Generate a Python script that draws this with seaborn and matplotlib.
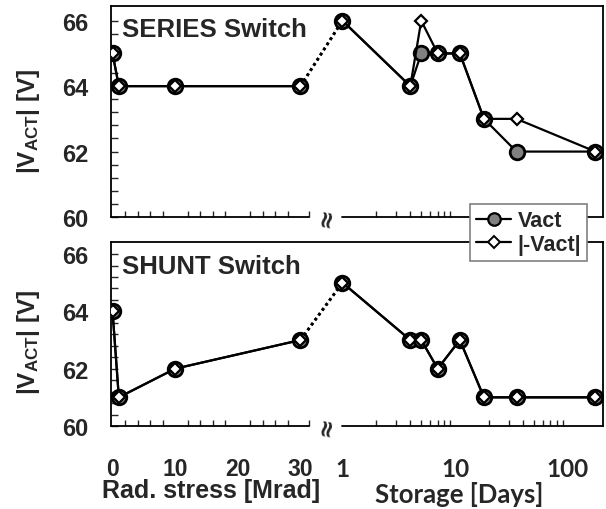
import numpy as np
import pandas as pd
import matplotlib
matplotlib.use("Agg")
import matplotlib.pyplot as plt
from matplotlib.lines import Line2D
from matplotlib.ticker import FixedLocator
import seaborn as sns

# ---------------- data ----------------
rad_x = [0, 1, 10, 30]                      # Mrad
days_x = [1, 4, 5, 7, 11, 18, 35, 175]      # days

series_vact_rad = [65, 64, 64, 64]
series_vact_days = [66, 64, 65, 65, 65, 63, 62, 62]
series_neg_rad = [65, 64, 64, 64]
series_neg_days = [66, 64, 66, 65, 65, 63, 63, 62]

shunt_vact_rad = [64, 61, 62, 63]
shunt_vact_days = [65, 63, 63, 62, 63, 61, 61, 61]
shunt_neg_rad = [64, 61, 62, 63]
shunt_neg_days = [65, 63, 63, 62, 63, 61, 61, 61]

panel_titles = ["SERIES Switch", "SHUNT Switch"]
series_names = ["Vact", "|-Vact|"]
rad_ticks = [0, 10, 20, 30]
day_ticks = [1, 10, 100]

# ---------------- broken-axis mapping ----------------
X_MIN = -0.25
RAD_END = 31.3
DAY0 = 36.7
DEC = 18.0
X_MAX = 78.3


def dpos(d):
    return DAY0 + DEC * np.log10(np.asarray(d, dtype=float))


rows = []
data = {
    (0, "Vact"): (series_vact_rad, series_vact_days),
    (0, "|-Vact|"): (series_neg_rad, series_neg_days),
    (1, "Vact"): (shunt_vact_rad, shunt_vact_days),
    (1, "|-Vact|"): (shunt_neg_rad, shunt_neg_days),
}
for (p, s), (yr, yd) in data.items():
    for x, y in zip(rad_x, yr):
        rows.append(dict(panel=p, series=s, part="rad", x=float(x), y=y))
    for x, y in zip(days_x, yd):
        rows.append(dict(panel=p, series=s, part="days", x=float(dpos(x)), y=y))
    rows.append(dict(panel=p, series=s, part="link", x=float(rad_x[-1]), y=yr[-1]))
    rows.append(dict(panel=p, series=s, part="link", x=float(dpos(days_x[0])), y=yd[0]))
df = pd.DataFrame(rows)

# ---------------- style ----------------
sns.set_style("ticks")
plt.rcParams["font.family"] = ["Liberation Sans", "DejaVu Sans"]
plt.rcParams["font.weight"] = "bold"
plt.rcParams["mathtext.default"] = "regular"

W, H = 606, 510
fig = plt.figure(figsize=(W / 100, H / 100), dpi=100)


def fx(px):
    return px / W


def fy(py):
    return 1 - py / H


axes_px = [(111, 603, 7, 218), (111, 603, 243, 427)]
title_top_px = [18, 255]
ylims = [(60, 66.45), (60, 66.42)]

styles = {
    "Vact": dict(marker="o", markersize=10.5, markerfacecolor="#808080",
                 markeredgecolor="black", markeredgewidth=2.0),
    "|-Vact|": dict(marker="D", markersize=6.3, markerfacecolor="white",
                    markeredgecolor="black", markeredgewidth=1.6),
}

for p in range(2):
    l, r, t, b = axes_px[p]
    ax = fig.add_axes([fx(l), fy(b), fx(r) - fx(l), fy(t) - fy(b)])
    sub = df[df.panel == p]
    for s in series_names:
        ss = sub[sub.series == s]
        link = ss[ss.part == "link"]
        sns.lineplot(data=link, x="x", y="y", ax=ax, color="black", lw=2.0,
                     linestyle=(0, (1, 1.2)), estimator=None, sort=False,
                     legend=False, zorder=2)
    for s in series_names:
        ss = sub[sub.series == s]
        for part in ["rad", "days"]:
            seg = ss[ss.part == part]
            sns.lineplot(data=seg, x="x", y="y", ax=ax, color="black", lw=1.6,
                         estimator=None, sort=False, legend=False, zorder=3,
                         **styles[s])

    ax.set_xlim(X_MIN, X_MAX)
    ax.set_ylim(*ylims[p])
    ax.set_xlabel("")
    ax.set_ylabel(r"|V$_{ACT}$| [V]", fontsize=17.5, fontweight="bold")
    ax.yaxis.set_label_coords(-0.14, 0.46)

    for sp in ["top", "right", "left"]:
        ax.spines[sp].set_linewidth(1.3)
        ax.spines[sp].set_color("black")
    ax.spines["bottom"].set_visible(False)
    xt = ax.get_xaxis_transform()
    ax.add_line(Line2D([X_MIN, RAD_END], [0, 0], transform=xt, color="black",
                       lw=1.3, clip_on=False, zorder=4))
    ax.add_line(Line2D([DAY0, X_MAX], [0, 0], transform=xt, color="black",
                       lw=1.3, clip_on=False, zorder=4))
    ax.text((RAD_END + DAY0) / 2, 0, "\u2248", transform=xt, rotation=80,
            ha="center", va="center", fontsize=17, fontweight="bold",
            family="DejaVu Sans", clip_on=False)

    # y ticks
    ax.set_yticks([60, 62, 64, 66])
    ax.yaxis.set_minor_locator(FixedLocator(np.arange(60, 66.01, 0.4)))
    ax.tick_params(axis="y", which="both", direction="in", length=5,
                   width=1.0, pad=16, labelsize=17, left=True)
    for lab in ax.get_yticklabels():
        lab.set_fontweight("bold")

    # x ticks
    rad_minor = list(np.arange(2, 31, 2)) + [RAD_END]
    day_minor = [d * m for m in (1, 10) for d in range(2, 10)] + [10, 100]
    ax.xaxis.set_minor_locator(FixedLocator(rad_minor + list(dpos(day_minor))))
    major_pos = list(rad_ticks) + list(dpos(day_ticks))
    ax.set_xticks(major_pos)
    ax.tick_params(axis="x", which="minor", direction="in", length=4,
                   width=1.0, bottom=True)
    ax.tick_params(axis="x", which="major", length=0, pad=22, labelsize=16.5)
    if p == 1:
        ax.set_xticklabels([str(v) for v in rad_ticks] + [str(v) for v in day_ticks])
        labs = ax.get_xticklabels()
        for i, lab in enumerate(labs):
            lab.set_fontweight("bold")
            if i >= len(rad_ticks):
                lab.set_family("Lato")
                lab.set_fontsize(17.5)
    else:
        ax.set_xticklabels([])

    ax.text(0.022, 1 - (title_top_px[p] - t) / (b - t), panel_titles[p],
            transform=ax.transAxes, ha="left", va="top",
            fontsize=18.5, fontweight="bold")

# x axis titles
fig.text(fx(211), fy(498), "Rad. stress [Mrad]", ha="center", va="baseline",
         fontsize=18, fontweight="bold")
fig.text(fx(459), fy(503), "Storage [Days]", ha="center", va="baseline",
         fontsize=18.5, fontweight="bold", family="Lato")

# legend
handles = [
    Line2D([], [], color="black", lw=1.6, marker="o", markersize=9,
           markerfacecolor="#808080", markeredgecolor="black", markeredgewidth=1.6),
    Line2D([], [], color="black", lw=1.6, marker="D", markersize=6,
           markerfacecolor="white", markeredgecolor="black", markeredgewidth=1.4),
]
leg = fig.legend(handles, series_names, loc="upper left",
                 bbox_to_anchor=(fx(470), fy(205)), bbox_transform=fig.transFigure,
                 frameon=True, fancybox=False, framealpha=1, edgecolor="#808080",
                 borderaxespad=0, handlelength=1.6, handletextpad=0.3,
                 borderpad=0.3, labelspacing=0.1,
                 prop=dict(family="Liberation Sans", weight="bold", size=15.5))
leg.get_frame().set_linewidth(1.2)
leg.set_zorder(10)

fig.savefig("out.png", dpi=100)
